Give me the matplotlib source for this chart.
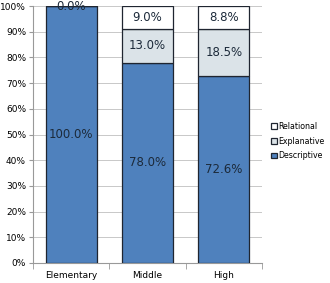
import numpy as np
import matplotlib.pyplot as plt
from matplotlib.ticker import PercentFormatter

categories = ["Elementary", "Middle", "High"]
descriptive = [100.0, 78.0, 72.6]
explanative = [0.0, 13.0, 18.5]
relational = [0.0, 9.0, 8.8]

fig = plt.figure(figsize=(3.30, 2.83), dpi=100)
ax = fig.add_axes([33 / 330, 20 / 283, 229 / 330, 257 / 283])

x = np.arange(len(categories))
w = 0.67
edge = "#1f2530"
b1 = ax.bar(x, descriptive, w, color="#4f81bd", edgecolor=edge, lw=0.9,
            label="Descriptive", zorder=3)
b2 = ax.bar(x, explanative, w, bottom=descriptive, color="#dbe3e8",
            edgecolor=edge, lw=0.9, label="Explanative", zorder=3)
bottom3 = np.array(descriptive) + np.array(explanative)
b3 = ax.bar(x, relational, w, bottom=bottom3, color="white", edgecolor=edge,
            lw=0.9, label="Relational", zorder=3)

txt = "#1c2a3a"
for i in range(len(categories)):
    ax.text(x[i], descriptive[i] / 2, f"{descriptive[i]:.1f}%", ha="center",
            va="center", fontsize=8.5, color=txt, zorder=4)
    if explanative[i] > 0:
        ax.text(x[i], descriptive[i] + explanative[i] / 2, f"{explanative[i]:.1f}%",
                ha="center", va="center", fontsize=8.5, color=txt, zorder=4)
        ax.text(x[i], bottom3[i] + relational[i] / 2, f"{relational[i]:.1f}%",
                ha="center", va="center", fontsize=8.5, color=txt, zorder=4)
    else:
        ax.text(x[i], 100, f"{relational[i]:.1f}%", ha="center",
                va="center", fontsize=8.5, color=txt, zorder=4)

ax.set_xlim(-0.5, 2.5)
ax.set_ylim(0, 100)
ax.set_yticks(np.arange(0, 101, 10))
ax.yaxis.set_major_formatter(PercentFormatter(decimals=0))
ax.set_xticks(x)
ax.set_xticklabels(categories)
ax.set_xticks([-0.5, 0.5, 1.5, 2.5], minor=True)
ax.tick_params(axis="x", which="major", length=0, labelsize=6.5, pad=6)
ax.tick_params(axis="x", which="minor", length=4, color="#999999")
ax.tick_params(axis="y", length=3, labelsize=6.5, color="#999999", pad=2)
ax.grid(axis="y", color="#c8c8c8", lw=0.7, zorder=0)
for s in ["top", "right"]:
    ax.spines[s].set_visible(False)
ax.spines["left"].set_color("#999999")
ax.spines["bottom"].set_color("#999999")

fig.legend(handles=[b3, b2, b1], loc="center left",
           bbox_to_anchor=(267 / 330, 1 - 141 / 283), frameon=False,
           fontsize=5.7, handlelength=0.7, handleheight=0.7,
           handletextpad=0.25, labelspacing=0.75, borderpad=0)

fig.savefig("out.png", dpi=100)
